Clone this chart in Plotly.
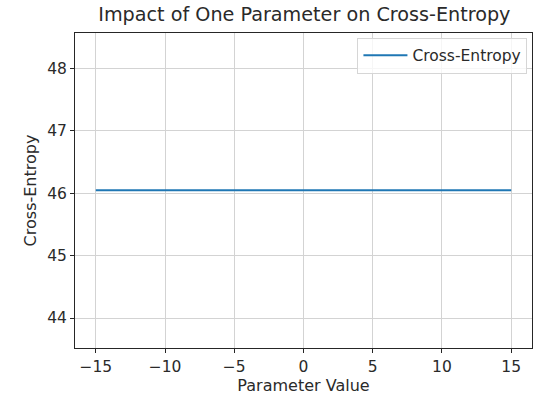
import plotly.graph_objects as go

param_values = [-15, -10, -5, 0, 5, 10, 15]
cross_entropy = [46.05, 46.05, 46.05, 46.05, 46.05, 46.05, 46.05]
x_ticks = [-15, -10, -5, 0, 5, 10, 15]
x_tick_labels = ["−15", "−10", "−5", "0", "5", "10", "15"]
y_ticks = [44, 45, 46, 47, 48]

fig = go.Figure()
fig.add_trace(go.Scatter(x=param_values, y=cross_entropy, mode="lines",
                         name="Cross-Entropy", line=dict(color="#1f77b4", width=2)))

font = "DejaVu Sans"
fig.update_layout(
    width=534, height=396,
    margin=dict(l=75, r=2, t=33, b=48, autoexpand=False),
    paper_bgcolor="white", plot_bgcolor="white",
    font=dict(family=font, size=15.5, color="#2a2a2a"),
    title=dict(text="Impact of One Parameter on Cross-Entropy", x=0.57, xanchor="center",
               y=0.965, yanchor="middle", font=dict(size=19.2, family=font, color="#2a2a2a")),
    showlegend=True,
    legend=dict(x=0.99, xanchor="right", y=0.985, yanchor="top", itemwidth=44,
                bordercolor="#d6d6d6", borderwidth=1, bgcolor="rgba(255,255,255,0.8)",
                font=dict(size=15.5, family=font)),
    xaxis=dict(range=[-16.5, 16.5], tickvals=x_ticks, ticktext=x_tick_labels,
               showgrid=True, gridcolor="#d3d3d3", gridwidth=1, automargin=False,
               showline=True, linecolor="#262626", linewidth=1, mirror=True,
               ticks="outside", ticklen=4, tickcolor="#262626", zeroline=False,
               title=dict(text="Parameter Value", font=dict(size=16), standoff=2)),
    yaxis=dict(range=[43.52, 48.57], tickvals=y_ticks, automargin=False,
               showgrid=True, gridcolor="#d3d3d3", gridwidth=1,
               showline=True, linecolor="#262626", linewidth=1, mirror=True,
               ticks="outside", ticklen=4, tickcolor="#262626", zeroline=False,
               title=dict(text="Cross-Entropy", font=dict(size=16), standoff=6)),
)
fig.write_html("out.html", config={"displayModeBar": False},
               post_script="document.body.style.margin='0';document.body.style.overflow='hidden';")
